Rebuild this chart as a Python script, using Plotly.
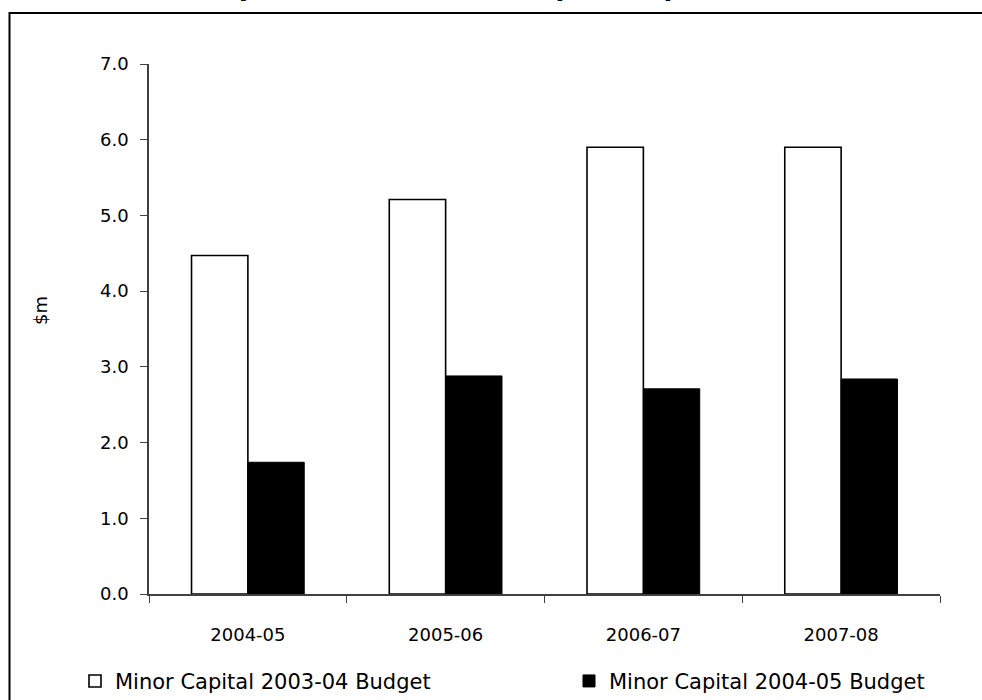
import plotly.graph_objects as go

# Minor capital funding by year, $m
years = ["2004-05", "2005-06", "2006-07", "2007-08"]
budget_2003_04 = [4.47, 5.21, 5.90, 5.90]
budget_2004_05 = [1.74, 2.88, 2.71, 2.84]
series_names = ["Minor Capital 2003-04 Budget", "Minor Capital 2004-05 Budget"]
title_text = "Summary of Forward Minor Capital Expenditure"
y_title = "$m"

FONT = "DejaVu Sans"
AXIS_COLOR = "#404040"
PLOT_LEFT, PLOT_RIGHT = 149, 940
PLOT_TOP, PLOT_BOTTOM = 64, 594
PLOT_W = PLOT_RIGHT - PLOT_LEFT
PLOT_H = PLOT_BOTTOM - PLOT_TOP


def paper_x(px):
    """Convert a pixel column to paper units."""
    return (px - PLOT_LEFT) / PLOT_W


def paper_y(px):
    """Convert a pixel row (from the top of the page) to paper units."""
    return (PLOT_BOTTOM - px) / PLOT_H


fig = go.Figure()
fig.add_trace(go.Bar(
    x=years, y=budget_2003_04, name=series_names[0], legend="legend",
    marker=dict(color="white", line=dict(color="black", width=1.6)),
))
fig.add_trace(go.Bar(
    x=years, y=budget_2004_05, name=series_names[1], legend="legend2",
    marker=dict(color="black", line=dict(color="black", width=1)),
))

legend_style = dict(
    orientation="h", yanchor="top", y=-0.126, xanchor="left",
    font=dict(family=FONT, size=21, color="black"),
    itemclick=False, bgcolor="rgba(0,0,0,0)",
)

fig.update_layout(
    width=982, height=700,
    margin=dict(l=PLOT_LEFT, r=982 - PLOT_RIGHT, t=PLOT_TOP,
                b=700 - PLOT_BOTTOM, autoexpand=False),
    paper_bgcolor="white", plot_bgcolor="white",
    barmode="group", bargap=0.43, bargroupgap=0,
    font=dict(family=FONT, size=18, color="black"),
    showlegend=True,
    legend=dict(legend_style, x=paper_x(75)),
    legend2=dict(legend_style, x=paper_x(569)),
    xaxis=dict(
        type="category", showline=True, linecolor=AXIS_COLOR, linewidth=1.5,
        ticks="outside", tickson="boundaries", ticklen=7, tickcolor=AXIS_COLOR,
        tickwidth=1.2, showgrid=False, ticklabelstandoff=24,
    ),
    yaxis=dict(
        range=[0, 7], dtick=1, tickformat=".1f", showline=True,
        linecolor=AXIS_COLOR, linewidth=1.5, ticks="outside", ticklen=7,
        tickcolor=AXIS_COLOR, tickwidth=1.2, showgrid=False, zeroline=False,
        ticklabelstandoff=8,
    ),
    shapes=[dict(
        type="rect", xref="paper", yref="paper",
        x0=paper_x(9.5), x1=paper_x(1200), y0=paper_y(900), y1=paper_y(13),
        line=dict(color="black", width=2), fillcolor="rgba(0,0,0,0)",
        layer="above",
    )],
    annotations=[
        dict(
            text="<b>" + title_text + "</b>", xref="paper", yref="paper",
            x=paper_x(117), y=paper_y(4), xanchor="left", yanchor="bottom",
            showarrow=False, font=dict(family=FONT, size=25.5, color="black"),
        ),
        dict(
            text=y_title, xref="paper", yref="paper",
            x=paper_x(40), y=paper_y(311), xanchor="center", yanchor="middle",
            textangle=-90, showarrow=False,
            font=dict(family=FONT, size=18, color="black"),
        ),
    ],
)

fig.write_html("out.html", config={"displayModeBar": False})
